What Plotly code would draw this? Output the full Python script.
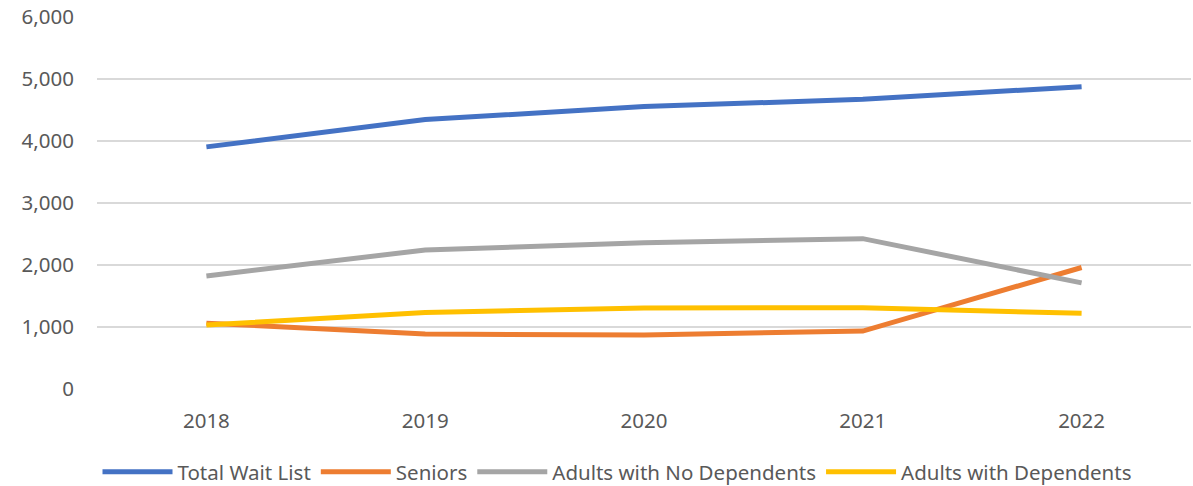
import plotly.graph_objects as go

years = ["2018", "2019", "2020", "2021", "2022"]
total_wait_list = [3905, 4345, 4555, 4672, 4876]
seniors = [1062, 887, 871, 935, 1960]
adults_no_dependents = [1823, 2242, 2358, 2425, 1712]
adults_with_dependents = [1032, 1235, 1308, 1310, 1221]

series = [
    ("Total Wait List", total_wait_list, "#4472C4"),
    ("Seniors", seniors, "#ED7D31"),
    ("Adults with No Dependents", adults_no_dependents, "#A5A5A5"),
    ("Adults with Dependents", adults_with_dependents, "#FFC000"),
]

fig = go.Figure()
for name, vals, color in series:
    fig.add_trace(go.Scatter(
        x=years, y=vals, name=name, mode="lines",
        line=dict(color=color, width=5),
    ))

font = dict(family="Noto Sans, Open Sans, sans-serif", size=20.5, color="#595959")

fig.update_layout(
    width=1193, height=486,
    margin=dict(l=97, r=2, t=17, b=97, autoexpand=False),
    plot_bgcolor="white", paper_bgcolor="white",
    font=font,
    showlegend=True,
    legend=dict(orientation="h", x=617 / 1193, xref="container", xanchor="center",
                y=1 - 472 / 486, yref="container", yanchor="middle",
                font=font, itemwidth=70, tracegroupgap=0),
    xaxis=dict(type="category", range=[-0.5, 4.5], showgrid=False, zeroline=False,
               showline=False, ticks="", tickfont=font, ticklabelstandoff=17,
               automargin=False),
    yaxis=dict(range=[0, 6000], dtick=1000, tickformat=",", showgrid=True,
               gridcolor="#D9D9D9", gridwidth=1.5, zeroline=False, showline=False,
               ticks="", tickfont=font, ticklabelstandoff=22, automargin=False),
)

fig.write_html("out.html")
